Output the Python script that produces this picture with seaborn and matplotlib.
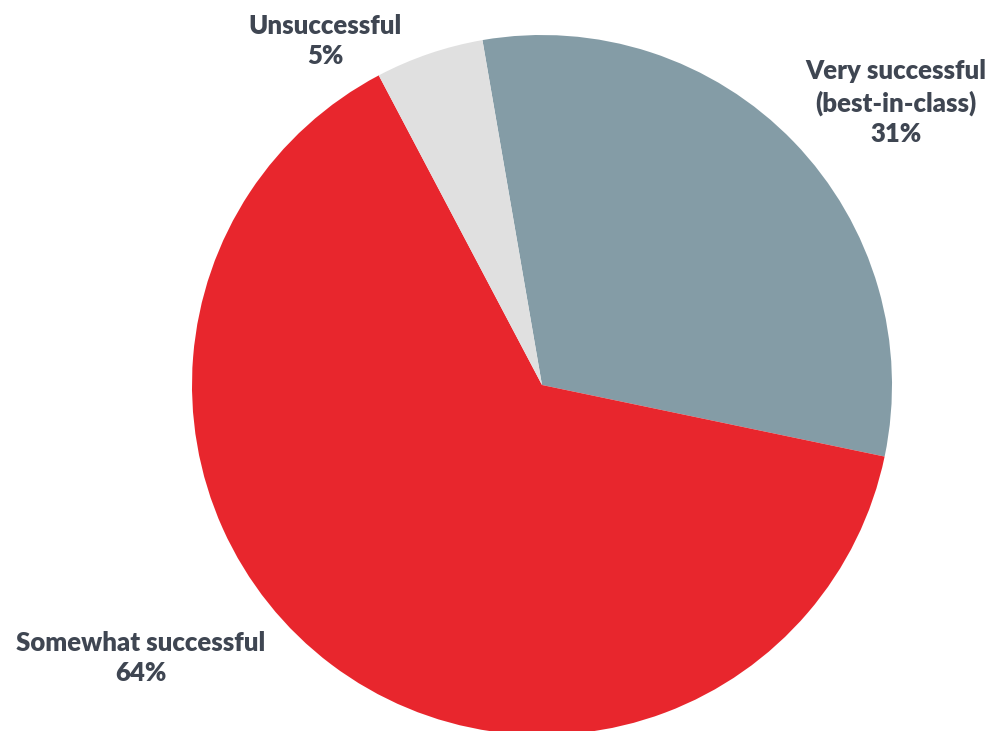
import matplotlib
matplotlib.use("Agg")
import matplotlib.pyplot as plt
import seaborn as sns

# Survey outcome shares
categories = ["Very successful\n(best-in-class)", "Somewhat successful", "Unsuccessful"]
shares = [31, 64, 5]
colors = ["#849ca6", "#e8262d", "#e0e0e0"]

sns.set_theme(style="white")
plt.rcParams["font.family"] = ["Lato", "DejaVu Sans"]

fig = plt.figure(figsize=(9.9, 7.31), dpi=100)
ax = fig.add_axes([192 / 990, -4 / 731, 700 / 990, 700 / 731])

wedges, _ = ax.pie(
    shares,
    colors=colors,
    startangle=99.8,
    counterclock=False,
    radius=1.0,
    wedgeprops=dict(linewidth=0),
)
ax.set_xlim(-1, 1)
ax.set_ylim(-1, 1)
ax.set_aspect("equal")
ax.axis("off")

# Label anchors in pie coordinates (centre of each text block)
label_pos = [(1.011, 0.806), (-1.146, -0.780), (-0.62, 0.983)]
text_color = "#3f4652"
for name, val, (x, y) in zip(categories, shares, label_pos):
    ax.text(x, y, f"{name}\n{val}%", ha="center", va="center",
            fontsize=18.5, fontweight="heavy", color=text_color,
            linespacing=1.33, clip_on=False)

fig.savefig("out.png", dpi=100)
